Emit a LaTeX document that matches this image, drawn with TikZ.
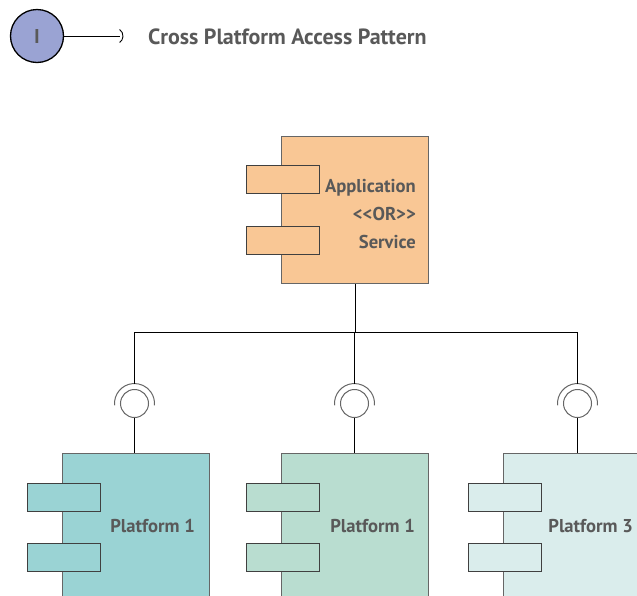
\documentclass[tikz,border=0pt]{standalone}
\usepackage{fontspec}
\newfontfamily\dinfont{PT Sans}
\usetikzlibrary{shapes.geometric}
\definecolor{txt}{HTML}{595959}
\definecolor{edge}{HTML}{666666}
\definecolor{appfill}{HTML}{F9C795}
\definecolor{pone}{HTML}{9AD3D4}
\definecolor{ptwo}{HTML}{B9DDD0}
\definecolor{pthree}{HTML}{DAEDEC}
\definecolor{legfill}{HTML}{9AA3D3}
\tikzset{
  compbox/.style={draw=edge, line width=1pt, anchor=north west, minimum width=147pt, minimum height=147pt, inner sep=0pt},
  tabbox/.style={draw=black!75, line width=1pt, anchor=north west, minimum width=73pt, minimum height=28pt, inner sep=0pt},
  lbl/.style={text=txt, font=\dinfont\bfseries\fontsize{18.6}{28}\selectfont, anchor=east, align=right, inner sep=0pt},
  sock/.style={circle, draw=edge, line width=1pt, fill=white, minimum size=28pt, inner sep=0pt},
  cupline/.style={draw=edge, line width=1pt},
  wire/.style={draw=black, line width=0.9pt}
}
\begin{document}
\begin{tikzpicture}[x=1pt,y=-1pt]
\useasboundingbox (0,0) rectangle (637,595);
\clip (0,0) rectangle (637,595);
% legend
\node[circle, draw=black, line width=1.3pt, fill=legfill, minimum size=53pt, inner sep=0pt, text=txt, font=\dinfont\bfseries\fontsize{20}{22}\selectfont] (leg) at (37,36) {I};
\coordinate (legend) at (120,36);
\draw[wire] (leg.east) -- (legend);
\draw[wire] ([shift={(-55:8)}]115,36) arc[start angle=-55, end angle=55, radius=8];
\node[text=txt, font=\dinfont\bfseries\fontsize{22}{24}\selectfont, anchor=west, inner sep=0pt] (title) at (148,37) {Cross Platform Access Pattern};
% application
\node[compbox, fill=appfill] (app) at (281,136) {};
\node[tabbox, fill=appfill] (at1) at (246,165) {};
\node[tabbox, fill=appfill] (at2) at (246,226) {};
\node[lbl] (applbl) at (416,214) {Application\\<<OR>>\\Service};
% platforms
\node[compbox, fill=pone] (p1) at (62,453) {};
\node[tabbox, fill=pone] (p1t1) at (27,483) {};
\node[tabbox, fill=pone] (p1t2) at (27,543) {};
\node[lbl] (p1lbl) at (195,526) {Platform 1};
\node[compbox, fill=ptwo] (p2) at (281,453) {};
\node[tabbox, fill=ptwo] (p2t1) at (246,483) {};
\node[tabbox, fill=ptwo] (p2t2) at (246,543) {};
\node[lbl] (p2lbl) at (415,526) {Platform 1};
\node[compbox, fill=pthree] (p3) at (503,453) {};
\node[tabbox, fill=pthree] (p3t1) at (468,483) {};
\node[tabbox, fill=pthree] (p3t2) at (468,543) {};
\node[lbl] (p3lbl) at (633,526) {Platform 3};
% sockets
\node[sock] (s1) at (134.5,403.5) {};
\node[sock] (s2) at (354.5,403.5) {};
\node[sock] (s3) at (577.5,403.5) {};
\foreach \s in {s1,s2,s3}{
  \draw[cupline] ([shift={(175:20)}]\s.center) arc[start angle=175, end angle=365, radius=20];
  \coordinate (\s top) at ([yshift=20pt]\s.center);
}
% wires
\coordinate (bus) at (0,332);
\draw[wire] (app.south) -- (app.south |- bus);
\draw[wire] (s1top) -- (s1top |- bus) -- (s3top |- bus) -- (s3top);
\draw[wire] (s2top) -- (s2top |- bus);
\draw[wire] (s1.south) -- (s1.south |- p1.north);
\draw[wire] (s2.south) -- (s2.south |- p2.north);
\draw[wire] (s3.south) -- (s3.south |- p3.north);
\end{tikzpicture}
\end{document}
